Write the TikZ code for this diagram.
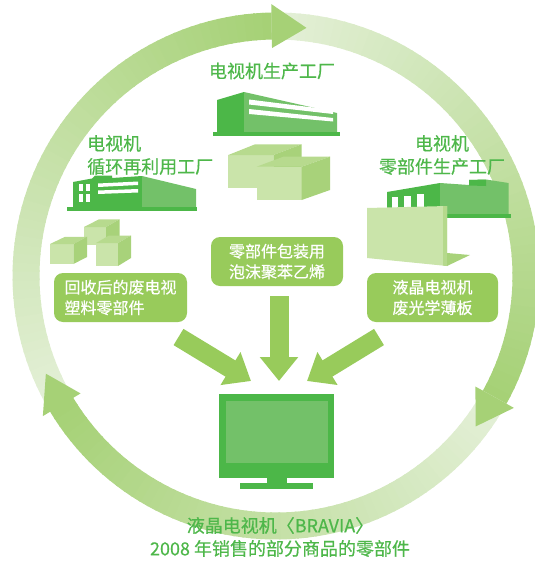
\documentclass[tikz,border=0pt]{standalone}
\usepackage{fontspec}
\setmainfont{Noto Sans CJK SC}[FakeBold=0.5]
\usetikzlibrary{arrows.meta}

\definecolor{ringpale}{HTML}{E4F0D8}
\definecolor{ringdark}{HTML}{A6D176}
\definecolor{panelgreen}{HTML}{98CB5B}
\definecolor{deepgreen}{HTML}{4CB748}
\definecolor{midgreen}{HTML}{73C169}
\definecolor{labelgreen}{HTML}{4EB74A}
\definecolor{cartonfront}{HTML}{CAE4AA}
\definecolor{cartontop}{HTML}{B7DA8E}
\definecolor{cartonside}{HTML}{A8D27A}
\definecolor{sheetedge}{HTML}{B5D98C}

\begin{document}
\begin{tikzpicture}[x=1pt,y=-1pt,
  labeltext/.style={text=labelgreen, font=\fontsize{18}{23}\selectfont, inner sep=0pt},
  infobox/.style={fill=panelgreen, rounded corners=9pt, text=white,
    font=\fontsize{16}{20.5}\selectfont, inner sep=0pt},
  fatarrow/.style={draw=panelgreen, line width=19pt,
    -{Triangle[width=37pt,length=24pt]}},
  front/.style={fill=cartonfront},
  lid/.style={fill=cartontop},
  flank/.style={fill=cartonside}]
\useasboundingbox (0,0) rectangle (535,562);

% recycling ring: three arcs, each shading from pale to full green
\begin{scope}
\clip (0,0) rectangle (535,562);
\begin{scope}[shift={(276,276)}]
  \foreach \s in {149,269,389} {
    \foreach \i in {0,...,59} {
      \pgfmathsetmacro\a{\s+2*\i}
      \pgfmathsetmacro\b{\a+2.4}
      \pgfmathtruncatemacro\t{round(100*\i/59)}
      \fill[ringdark!\t!ringpale] (\a:236.5) arc[start angle=\a,end angle=\b,radius=236.5]
        -- (\b:263.5) arc[start angle=\b,end angle=\a,radius=263.5] -- cycle;
    }
  }
  \foreach \tip in {277,397,517} {
    \fill[ringdark] ({\tip-8}:228) -- ({\tip-8}:272) -- (\tip:250) -- cycle;
  }
\end{scope}
\end{scope}

% titles
\node[labeltext] (ttop) at (272,71) {电视机生产工厂};
\node[labeltext, align=left, anchor=west] (tleft) at (87,155) {电视机\\循环再利用工厂};
\node[labeltext, align=center] (tright) at (442,155) {电视机\\零部件生产工厂};
\node[labeltext, align=center] (tbottom) at (280,537) {液晶电视机〈BRAVIA〉\\2008 年销售的部分商品的零部件};

% central factory
\fill[deepgreen] (217,100) -- (244,92) -- (244,132) -- (217,132) -- cycle;
\fill[midgreen] (244,92) -- (337,113) -- (337,132) -- (244,132) -- cycle;
\fill[white] (249,99.5) -- (333,110) -- (333,114) -- (249,104.5) -- cycle;
\fill[white] (249,109) -- (333,118) -- (333,121.5) -- (249,114) -- cycle;
\fill[deepgreen] (213,132) rectangle (340,135.5);

% central cartons
\fill[front] (228.3,155) rectangle (273.3,188.3);
\fill[lid] (228.3,155) -- (255,144.3) -- (301.7,144.3) -- (273.3,155) -- cycle;
\fill[flank] (273.3,155) -- (301.7,144.3) -- (301.7,178) -- (273.3,188.3) -- cycle;
\fill[front] (256.7,166.7) rectangle (301.7,200);
\fill[lid] (256.7,166.7) -- (283.3,156.7) -- (330,156.7) -- (301.7,166.7) -- cycle;
\fill[flank] (301.7,166.7) -- (330,156.7) -- (330,190) -- (301.7,200) -- cycle;

% recycling plant
\fill[deepgreen] (73,182) -- (92,178.5) -- (95,175.5) -- (112,175.5) -- (112,178)
  -- (142,176) -- (142,208) -- (73,208) -- cycle;
\fill[midgreen] (142,176) -- (196,189) -- (196,208) -- (142,208) -- cycle;
\fill[white] (79,183.5) rectangle (83,191);
\fill[white] (86,183.5) rectangle (90,191);
\fill[white] (79,193.5) rectangle (83,202);
\fill[white] (86,193.5) rectangle (90,202);
\fill[white] (98,183.5) -- (138,181.5) -- (138,185) -- (98,187) -- cycle;
\fill[white] (98,190.5) -- (138,189) -- (138,192.5) -- (98,194) -- cycle;
\fill[deepgreen] (66.7,207.3) rectangle (197.3,210.7);

% recovered plastic parts
\fill[front] (84,227) rectangle (106,245);
\fill[lid] (84,227) -- (99,219.3) -- (119.5,219.3) -- (106,227) -- cycle;
\fill[flank] (106,227) -- (119.5,219.3) -- (119.5,238) -- (106,245) -- cycle;
\fill[front] (50,244) rectangle (73.4,264);
\fill[lid] (50,244) -- (65,236.8) -- (87,236.8) -- (73.4,244) -- cycle;
\fill[flank] (73.4,244) -- (87,236.8) -- (87,257) -- (73.4,264) -- cycle;
\fill[front] (96,243) rectangle (118,266);
\fill[lid] (96,243) -- (109,235.5) -- (131,235.5) -- (118,243) -- cycle;
\fill[flank] (118,243) -- (131,235.5) -- (131,258) -- (118,266) -- cycle;

% parts plant
\fill[deepgreen] (387,192) -- (440,183) -- (440,214) -- (387,214) -- cycle;
\fill[midgreen] (440,183) -- (469,185) -- (469,180) -- (486,179.5) -- (508.5,183)
  -- (508.5,214) -- (440,214) -- cycle;
\fill[deepgreen] (469,180) -- (486,179.5) -- (486,186) -- (469,185.5) -- cycle;
\fill[white] (391.7,197) rectangle (397.8,209);
\fill[white] (404.3,196) rectangle (411,209);
\fill[white] (416.7,194) rectangle (423.5,209);
\fill[deepgreen] (383,214) rectangle (511,217.6);

% optical sheet
\fill[front] (367,208) -- (447,206) -- (447,266) -- (367,258) -- cycle;
\fill[sheetedge] (443,206.1) -- (447,206) -- (447,266) -- (443,265.6) -- cycle;
\fill[flank] (447,253) -- (470,255) -- (447,266) -- cycle;

% material boxes
\node[infobox, minimum width=133pt, minimum height=49pt, align=left] (boxL)
  at (120.5,297.5) {回收后的废电视\\塑料零部件};
\node[infobox, minimum width=132pt, minimum height=49pt, align=center] (boxM)
  at (277,261.5) {零部件包装用\\泡沫聚苯乙烯};
\node[infobox, minimum width=131pt, minimum height=49pt, align=center] (boxR)
  at (432.5,297.5) {液晶电视机\\废光学薄板};

% television
\node[fill=deepgreen, minimum width=115pt, minimum height=84pt, inner sep=0pt] (tv)
  at (276.5,436) {};
\fill[midgreen] (226,401) rectangle (328,463);
\fill[deepgreen] (267,477) rectangle (287,483.5);
\fill[deepgreen] (240,483) rectangle (313,489);

% feed arrows
\coordinate (inL) at (178.5,337);
\coordinate (tipL) at (251,381);
\coordinate (inM) at (279,296);
\coordinate (tipM) at (279,381);
\coordinate (inR) at (379,337);
\coordinate (tipR) at (307,381);
\draw[fatarrow] (inL) -- (tipL);
\draw[fatarrow] (inM) -- (tipM);
\draw[fatarrow] (inR) -- (tipR);
\end{tikzpicture}
\end{document}
